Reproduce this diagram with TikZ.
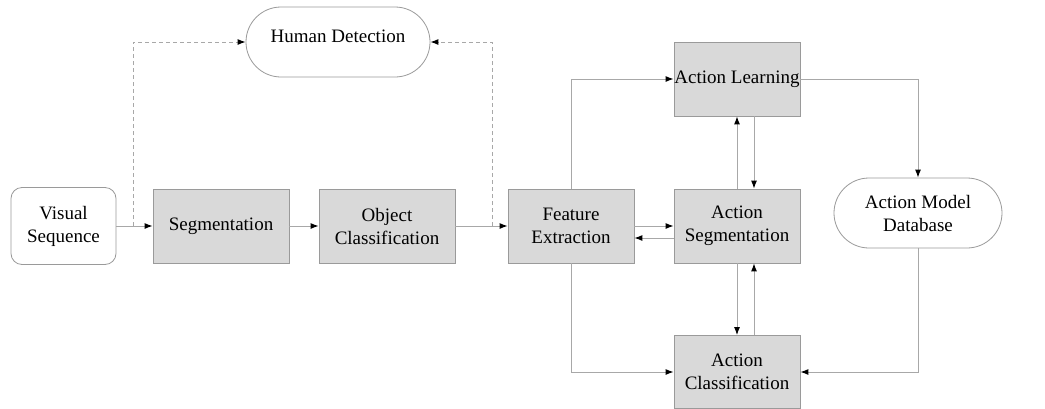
\documentclass[tikz,border=0pt]{standalone}
\usepackage{fontspec}
\setmainfont{Liberation Serif}
\usetikzlibrary{arrows.meta,shapes.misc}
\definecolor{boxfill}{HTML}{D9D9D9}
\definecolor{boxline}{HTML}{9A9A9A}
\definecolor{wire}{HTML}{A8A8A8}
\tikzset{
  every node/.style={font=\fontsize{19}{23}\selectfont, align=center, inner sep=0pt},
  stage/.style={draw=boxline, fill=boxfill, line width=0.8pt, minimum height=74pt},
  source/.style={draw=boxline, fill=white, line width=0.8pt, rounded corners=11pt},
  store/.style={draw=boxline, fill=white, line width=0.8pt, rounded rectangle, minimum height=70pt},
  conn/.style={draw=wire, line width=1pt, -{Latex[length=8pt,width=6pt,black]}},
  hint/.style={conn, dash pattern=on 4pt off 3pt},
}
\begin{document}
\begin{tikzpicture}[x=1pt,y=-1pt]
\useasboundingbox (0,0) rectangle (1045,408);

% processing stages
\node[source, minimum width=105pt, minimum height=77pt] (vs) at (63.5,226) {Visual\\Sequence};
\node[stage, minimum width=136pt] (seg) at (221,226) {Segmentation};
\node[stage, minimum width=136pt] (oc) at (387,226) {Object\\Classification};
\node[stage, minimum width=126pt] (fe) at (571,226) {Feature\\Extraction};
\node[stage, minimum width=126pt] (as) at (737,226) {Action\\Segmentation};
\node[stage, minimum width=126pt] (al) at (737,79) {Action Learning};
\node[stage, minimum width=126pt, minimum height=73pt] (ac) at (737,372) {Action\\Classification};

% terminals
\node[store, minimum width=184pt, text height=10pt, text depth=10pt] (hd) at (338,42) {Human Detection};
\node[store, minimum width=168pt] (db) at (918,213) {Action Model\\Database};

% branch points for the dashed feedback
\coordinate (j1) at (133,226);
\coordinate (j2) at (492,226);

% main pipeline
\draw[conn] (vs) -- (seg);
\draw[conn] (seg) -- (oc);
\draw[conn] (oc) -- (fe);
\draw[hint] (j1) |- (hd.west);
\draw[hint] (j2) |- (hd.east);

% action stages
\draw[conn] (fe.north) |- (al.west);
\draw[conn] (al.east) -| (db.north);
\draw[conn] (fe.south) |- (ac.west);
\draw[conn] (db.south) |- (ac.east);
\draw[conn] (fe.east) -- (as.west);
\draw[conn] ([yshift=-12pt]as.west) -- ([yshift=-12pt]fe.east);
\draw[conn] (as.north) -- (al.south);
\draw[conn] ([xshift=17pt]al.south) -- ([xshift=17pt]as.north);
\draw[conn] (as.south) -- (ac.north);
\draw[conn] ([xshift=17pt]ac.north) -- ([xshift=17pt]as.south);
\end{tikzpicture}
\end{document}
